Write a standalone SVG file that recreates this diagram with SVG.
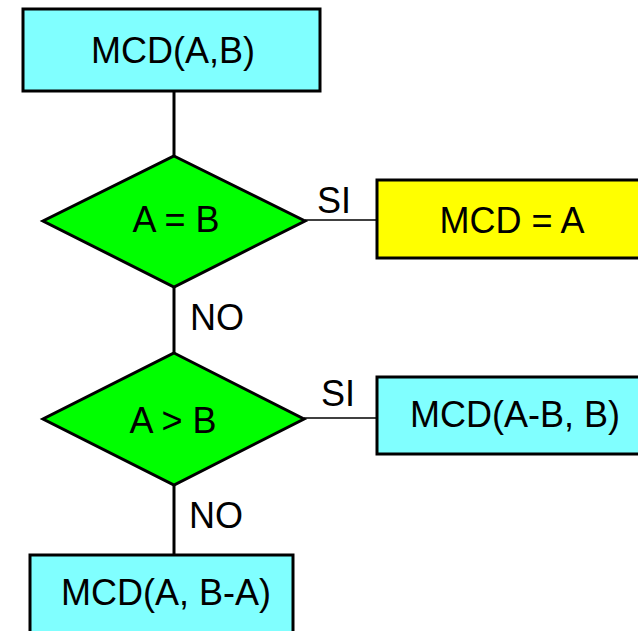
<svg xmlns="http://www.w3.org/2000/svg" width="638" height="631" viewBox="0 0 638 631">
<style>
.box{stroke:#000;stroke-width:3}
.cyan{fill:#80FFFF}
.yellow{fill:#FFFF00}
.green{fill:#00FF00}
.t{font-family:"Liberation Sans",Arial,sans-serif;font-size:36px;fill:#000}
.m{text-anchor:middle}
.thick{stroke:#000;stroke-width:3;fill:none}
.thin{stroke:#000;stroke-width:1.5;fill:none}
</style>
<rect width="638" height="631" fill="#fff"/>
<g id="connectors">
<line class="thick" x1="174" y1="92" x2="174" y2="156"/>
<line class="thick" x1="174" y1="287" x2="174" y2="353"/>
<line class="thick" x1="174" y1="485" x2="174" y2="555"/>
<line class="thin" x1="305" y1="220" x2="377" y2="220"/>
<line class="thin" x1="304" y1="418" x2="377" y2="418"/>
<text class="t" x="317" y="213">SI</text>
<text class="t" x="321" y="406">SI</text>
<text class="t" x="190" y="330">NO</text>
<text class="t" x="189" y="528">NO</text>
</g>
<g id="start">
<rect class="box cyan" x="23" y="9" width="297" height="82"/>
<text class="t m" x="173" y="63">MCD(A,B)</text>
</g>
<g id="cond1">
<polygon class="box green" points="174,156 305,221 174,287 43,221"/>
<text class="t m" x="176" y="232">A = B</text>
</g>
<g id="result">
<rect class="box yellow" x="377" y="180" width="300" height="78"/>
<text class="t m" x="512" y="233">MCD = A</text>
</g>
<g id="cond2">
<polygon class="box green" points="174,353 304,419 174,485 43,419"/>
<text class="t m" x="173" y="433">A &gt; B</text>
</g>
<g id="recurse1">
<rect class="box cyan" x="377" y="377" width="300" height="77"/>
<text class="t m" x="515" y="427">MCD(A-B, B)</text>
</g>
<g id="recurse2">
<rect class="box cyan" x="30" y="555" width="263" height="100"/>
<text class="t m" x="166" y="605">MCD(A, B-A)</text>
</g>
</svg>
